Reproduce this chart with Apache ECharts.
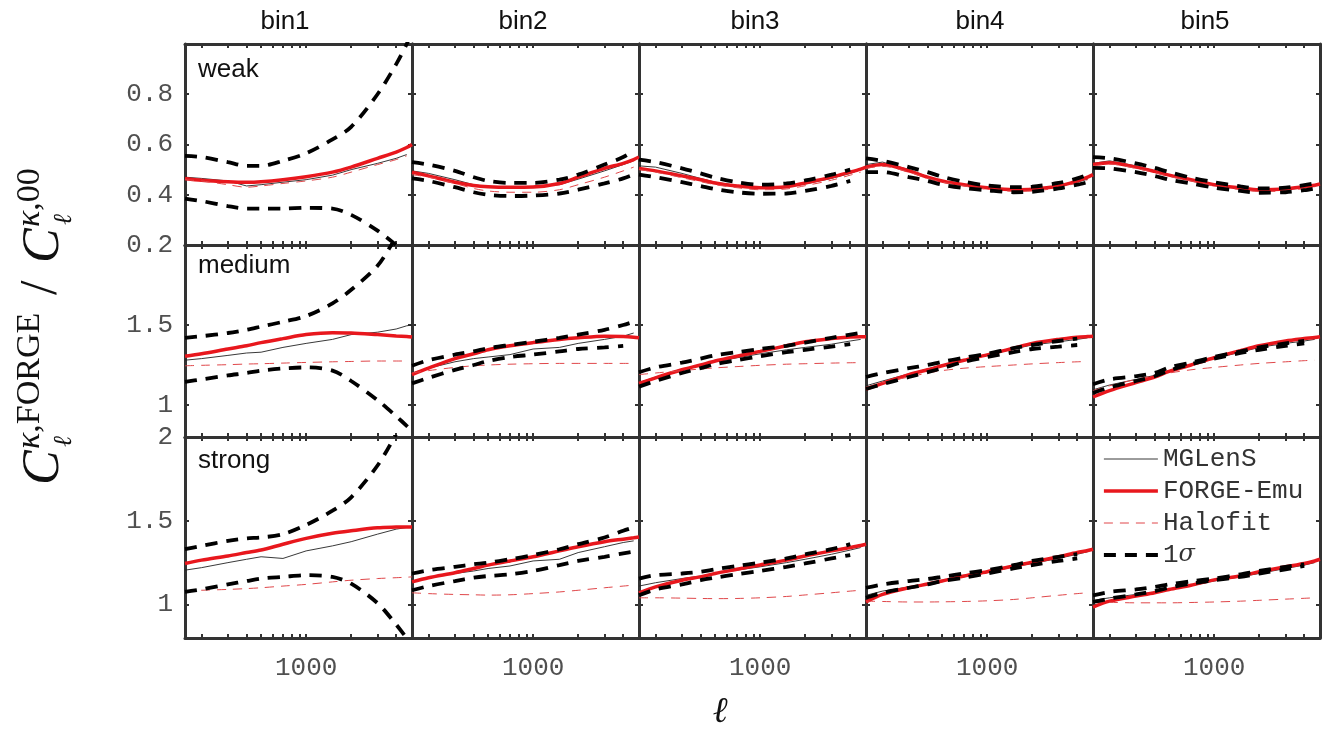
<!DOCTYPE html>
<html>
<head>
<meta charset="utf-8">
<script src="https://cdn.jsdelivr.net/npm/echarts@6/dist/echarts.min.js"></script>
<style>
html,body{margin:0;padding:0;background:#fff;}
#main{width:1341px;height:742px;}
</style>
</head>
<body>
<div id="main"></div>
<script>
// ---------------- data ----------------
const ELL = [155, 200, 300, 400, 500, 700, 1000, 1500, 2000, 3000, 4000, 4700, 5100];
const BINS = ['bin1', 'bin2', 'bin3', 'bin4', 'bin5'];
const ROWS = ['weak', 'medium', 'strong'];
const X_TICKS = [200, 300, 400, 500, 600, 700, 800, 900, 1000, 2000, 3000, 4000];
const X_LABELS = [1000];
const Y_LABELS_WEAK = [0.2, 0.4, 0.6, 0.8];
const Y_TICKS_WEAK = [0.4, 0.6, 0.8];
const Y_LABELS_MEDIUM = [1, 1.5];
const Y_LABELS_STRONG = [1, 1.5, 2];
const Y_TICKS_ML = [1, 1.5];
const LEGEND_NAMES = ['MGLenS', 'FORGE-Emu', 'Halofit', '1σ'];

// weak
const FORGE_WEAK = [
  [0.465,0.458,0.452,0.45,0.452,0.46,0.472,0.49,0.51,0.545,0.57,0.588,0.60],
  [0.49,0.475,0.45,0.437,0.432,0.43,0.431,0.445,0.47,0.505,0.525,0.54,0.55],
  [0.505,0.495,0.475,0.46,0.447,0.435,0.428,0.432,0.447,0.47,0.49,0.502,0.51],
  [0.51,0.52,0.495,0.47,0.455,0.44,0.428,0.42,0.422,0.435,0.455,0.47,0.48],
  [0.52,0.527,0.51,0.493,0.478,0.46,0.44,0.427,0.42,0.423,0.432,0.438,0.443]
];
const MGLENS_WEAK = [
  [0.47,0.465,0.455,0.435,0.44,0.45,0.46,0.478,0.50,0.525,0.545,0.56,null],
  [0.495,0.485,0.46,0.44,0.432,0.43,0.433,0.44,0.462,0.495,0.52,0.535,null],
  [0.515,0.51,0.485,0.465,0.45,0.437,0.428,0.43,0.443,0.465,0.485,0.5,null],
  [0.52,0.53,0.5,0.472,0.456,0.44,0.427,0.42,0.42,0.432,0.45,0.462,null],
  [0.525,0.535,0.515,0.495,0.479,0.46,0.44,0.425,0.418,0.42,0.428,0.435,null]
];
const HALOFIT_WEAK = [
  [0.46,0.455,0.44,0.43,0.435,0.445,0.455,0.47,0.49,0.52,0.54,0.555,null],
  [0.48,0.47,0.445,0.425,0.415,0.41,0.41,0.42,0.44,0.47,0.495,0.51,null],
  [0.5,0.49,0.468,0.452,0.44,0.428,0.42,0.423,0.436,0.458,0.478,0.49,null],
  [0.505,0.513,0.49,0.465,0.45,0.435,0.422,0.414,0.415,0.428,0.447,0.46,null],
  [0.515,0.522,0.505,0.488,0.473,0.455,0.435,0.42,0.413,0.415,0.425,0.432,null]
];
const SIGMA_UP_WEAK = [
  [0.555,0.55,0.53,0.515,0.515,0.535,0.565,0.62,0.67,0.80,0.92,1.0,1.05],
  [0.53,0.52,0.495,0.47,0.455,0.447,0.447,0.46,0.48,0.52,0.55,0.575,null],
  [0.54,0.53,0.505,0.485,0.468,0.45,0.44,0.445,0.457,0.48,0.5,null,null],
  [0.545,0.535,0.51,0.49,0.472,0.452,0.437,0.43,0.432,0.447,0.465,0.48,null],
  [0.55,0.545,0.525,0.507,0.49,0.468,0.45,0.433,0.425,0.428,0.438,0.445,null]
];
const SIGMA_LO_WEAK = [
  [0.385,0.375,0.355,0.345,0.345,0.345,0.348,0.345,0.32,0.257,0.20,0.165,0.15],
  [0.465,0.455,0.43,0.41,0.4,0.395,0.397,0.405,0.42,0.445,0.465,0.48,null],
  [0.48,0.47,0.45,0.435,0.423,0.41,0.404,0.405,0.415,0.435,0.455,null,null],
  [0.49,0.49,0.47,0.455,0.44,0.427,0.418,0.41,0.412,0.425,0.44,0.45,null],
  [0.507,0.505,0.49,0.475,0.46,0.445,0.428,0.415,0.408,0.41,0.418,0.425,null]
];

// medium
const FORGE_MEDIUM = [
  [1.305,1.32,1.35,1.37,1.39,1.415,1.44,1.452,1.45,1.44,1.432,1.428,1.425],
  [1.19,1.23,1.29,1.32,1.345,1.37,1.39,1.41,1.42,1.43,1.428,1.424,1.42],
  [1.135,1.17,1.22,1.25,1.275,1.305,1.335,1.37,1.395,1.415,1.425,1.427,1.427],
  [1.1,1.135,1.19,1.22,1.245,1.28,1.313,1.355,1.385,1.41,1.423,1.428,1.43],
  [1.05,1.09,1.14,1.175,1.21,1.25,1.295,1.34,1.37,1.4,1.415,1.422,1.427]
];
const MGLENS_MEDIUM = [
  [1.28,1.29,1.31,1.325,1.33,1.36,1.385,1.41,1.44,1.455,1.475,1.495,1.5],
  [1.2,1.23,1.27,1.29,1.30,1.315,1.35,1.36,1.385,1.41,1.43,1.45,null],
  [1.14,1.175,1.225,1.25,1.27,1.295,1.32,1.345,1.36,1.38,1.4,1.41,null],
  [1.12,1.15,1.195,1.225,1.25,1.28,1.31,1.35,1.375,1.395,1.41,1.42,null],
  [1.095,1.125,1.16,1.185,1.215,1.25,1.29,1.33,1.36,1.385,1.4,1.41,null]
];
const HALOFIT_MEDIUM = [
  [1.245,1.248,1.252,1.256,1.258,1.262,1.266,1.27,1.272,1.275,1.275,1.275,null],
  [1.2,1.215,1.235,1.245,1.25,1.255,1.258,1.26,1.26,1.26,1.26,1.26,null],
  [1.19,1.2,1.215,1.225,1.232,1.24,1.248,1.255,1.258,1.262,1.264,1.265,null],
  [1.11,1.14,1.175,1.2,1.215,1.23,1.24,1.25,1.257,1.265,1.27,1.272,null],
  [1.09,1.12,1.16,1.185,1.2,1.22,1.235,1.25,1.26,1.27,1.277,1.28,null]
];
const SIGMA_UP_MEDIUM = [
  [1.42,1.43,1.45,1.47,1.49,1.52,1.556,1.635,1.72,1.87,2.05,2.15,2.25],
  [1.245,1.28,1.315,1.335,1.355,1.375,1.395,1.42,1.44,1.47,1.5,1.52,null],
  [1.205,1.235,1.265,1.29,1.31,1.33,1.35,1.37,1.39,1.42,1.44,1.45,null],
  [1.175,1.2,1.23,1.25,1.27,1.295,1.32,1.355,1.375,1.4,1.415,null,null],
  [1.13,1.16,1.18,1.2,1.235,1.265,1.3,1.335,1.36,1.385,1.4,null,null]
];
const SIGMA_LO_MEDIUM = [
  [1.145,1.16,1.185,1.2,1.215,1.228,1.235,1.215,1.15,1.03,0.93,0.87,0.84],
  [1.135,1.17,1.22,1.25,1.275,1.3,1.315,1.335,1.35,1.36,1.37,null,null],
  [1.115,1.15,1.2,1.23,1.255,1.28,1.305,1.33,1.345,1.365,1.38,null,null],
  [1.1,1.13,1.175,1.205,1.23,1.27,1.3,1.33,1.35,1.365,1.375,null,null],
  [1.075,1.11,1.15,1.18,1.215,1.255,1.29,1.325,1.345,1.37,1.385,null,null]
];

// strong
const FORGE_STRONG = [
  [1.245,1.265,1.29,1.31,1.325,1.36,1.395,1.425,1.44,1.458,1.462,1.463,1.463],
  [1.135,1.16,1.19,1.215,1.235,1.26,1.285,1.32,1.345,1.375,1.39,1.398,1.403],
  [1.07,1.105,1.145,1.165,1.185,1.21,1.236,1.265,1.29,1.32,1.34,1.352,1.36],
  [1.015,1.06,1.1,1.122,1.14,1.17,1.196,1.23,1.252,1.285,1.31,1.322,1.33],
  [0.985,1.02,1.05,1.07,1.09,1.115,1.147,1.17,1.195,1.225,1.245,1.26,1.27]
];
const MGLENS_STRONG = [
  [1.205,1.22,1.25,1.27,1.285,1.275,1.32,1.35,1.375,1.42,1.45,1.46,1.462],
  [1.14,1.16,1.185,1.2,1.215,1.23,1.26,1.27,1.31,1.345,1.37,1.38,null],
  [1.11,1.13,1.155,1.17,1.185,1.205,1.225,1.25,1.27,1.3,1.325,1.34,null],
  [1.055,1.08,1.105,1.12,1.14,1.165,1.19,1.225,1.245,1.275,1.3,1.315,null],
  [1.025,1.04,1.06,1.075,1.09,1.112,1.14,1.165,1.185,1.215,1.235,1.25,null]
];
const HALOFIT_STRONG = [
  [1.082,1.085,1.09,1.095,1.1,1.11,1.12,1.135,1.145,1.155,1.16,1.163,1.165],
  [1.07,1.065,1.06,1.058,1.056,1.058,1.065,1.075,1.085,1.1,1.11,1.116,null],
  [1.04,1.04,1.038,1.036,1.035,1.036,1.04,1.048,1.057,1.07,1.08,1.085,null],
  [1.02,1.018,1.015,1.015,1.016,1.018,1.022,1.03,1.04,1.055,1.065,1.07,null],
  [1.015,1.013,1.01,1.01,1.01,1.012,1.015,1.02,1.025,1.032,1.037,1.04,null]
];
const SIGMA_UP_STRONG = [
  [1.33,1.35,1.38,1.395,1.4,1.42,1.475,1.56,1.64,1.83,2.02,2.15,2.2],
  [1.185,1.205,1.225,1.24,1.25,1.27,1.295,1.33,1.36,1.4,1.44,1.46,null],
  [1.155,1.175,1.185,1.195,1.21,1.23,1.25,1.275,1.3,1.33,1.36,null,null],
  [1.1,1.12,1.14,1.152,1.165,1.185,1.205,1.235,1.26,1.285,1.3,null,null],
  [1.055,1.075,1.09,1.105,1.12,1.138,1.155,1.18,1.2,1.225,1.24,null,null]
];
const SIGMA_LO_STRONG = [
  [1.075,1.09,1.12,1.14,1.155,1.165,1.175,1.165,1.124,1.008,0.88,0.8,0.77],
  [1.085,1.11,1.14,1.16,1.17,1.18,1.2,1.235,1.26,1.285,1.305,1.315,null],
  [1.055,1.09,1.12,1.145,1.16,1.18,1.2,1.225,1.245,1.275,1.295,null,null],
  [1.04,1.07,1.1,1.12,1.14,1.16,1.185,1.215,1.235,1.26,1.275,null,null],
  [1.015,1.035,1.06,1.08,1.1,1.125,1.145,1.165,1.185,1.21,1.23,null,null]
];

// ---------------- layout ----------------
const COL_LEFT = [185, 412, 639, 866, 1093];
const COL_W = 227;
const ROW_TOP = [44, 245, 437];
const ROW_H = [201, 192, 201];
const X_MIN = 155, X_MAX = 5100;

const ROW_CFG = [
  {forge: FORGE_WEAK, mg: MGLENS_WEAK, halo: HALOFIT_WEAK, up: SIGMA_UP_WEAK, lo: SIGMA_LO_WEAK,
   yMin: 0.2, yMax: 1.0, labels: Y_LABELS_WEAK, ticks: Y_TICKS_WEAK},
  {forge: FORGE_MEDIUM, mg: MGLENS_MEDIUM, halo: HALOFIT_MEDIUM, up: SIGMA_UP_MEDIUM, lo: SIGMA_LO_MEDIUM,
   yMin: 0.8, yMax: 2.0, labels: Y_LABELS_MEDIUM, ticks: Y_TICKS_ML},
  {forge: FORGE_STRONG, mg: MGLENS_STRONG, halo: HALOFIT_STRONG, up: SIGMA_UP_STRONG, lo: SIGMA_LO_STRONG,
   yMin: 0.8, yMax: 2.0, labels: Y_LABELS_STRONG, ticks: Y_TICKS_ML}
];

const pairs = arr => ELL.map((l, i) => [l, arr[i]]).filter(p => p[1] !== null && p[1] !== undefined);

const FRAME = {show: true, onZero: false, lineStyle: {color: '#333', width: 3}};
const TICK_STYLE = {color: '#333', width: 2};
const MONO = 'Liberation Mono';

const STYLE = {
  'MGLenS': {color: '#222', width: 0.9, type: 'solid'},
  'FORGE-Emu': {color: '#e8171d', width: 3.5, type: 'solid'},
  'Halofit': {color: '#e0474a', width: 1, type: [9, 7]},
  '1σ': {color: '#000', width: 3.8, type: [12, 9]}
};

const grids = [], xAxes = [], yAxes = [], series = [];
let gi = 0;
for (let r = 0; r < 3; r++) {
  const cfg = ROW_CFG[r];
  for (let c = 0; c < 5; c++) {
    grids.push({left: COL_LEFT[c], top: ROW_TOP[r], width: COL_W, height: ROW_H[r], containLabel: false});
    xAxes.push({
      type: 'log', logBase: 10, gridIndex: gi, min: X_MIN, max: X_MAX, position: 'bottom',
      axisLine: FRAME,
      axisTick: {show: true, inside: true, length: 4, lineStyle: TICK_STYLE, customValues: X_TICKS},
      axisLabel: {show: r === 2, customValues: X_LABELS, margin: 17, fontFamily: MONO, fontSize: 26, color: '#505050',
        formatter: v => String(Math.round(v))},
      splitLine: {show: false}
    });
    xAxes.push({
      type: 'log', logBase: 10, gridIndex: gi, min: X_MIN, max: X_MAX, position: 'top',
      axisLine: FRAME,
      axisTick: {show: true, inside: true, length: 4, lineStyle: TICK_STYLE, customValues: X_TICKS},
      axisLabel: {show: false},
      splitLine: {show: false}
    });
    yAxes.push({
      type: 'value', gridIndex: gi, min: cfg.yMin, max: cfg.yMax, position: 'left',
      axisLine: FRAME,
      axisTick: {show: true, inside: true, length: 4, lineStyle: TICK_STYLE, customValues: cfg.ticks},
      axisLabel: {show: c === 0, customValues: cfg.labels, margin: 12, fontFamily: MONO, fontSize: 26, color: '#505050'},
      splitLine: {show: false}
    });
    yAxes.push({
      type: 'value', gridIndex: gi, min: cfg.yMin, max: cfg.yMax, position: 'right',
      axisLine: FRAME,
      axisTick: {show: true, inside: true, length: 4, lineStyle: TICK_STYLE, customValues: cfg.ticks},
      axisLabel: {show: false},
      splitLine: {show: false}
    });
    const mk = (name, arr, z, smooth) => ({
      type: 'line', name: name, xAxisIndex: 2 * gi, yAxisIndex: 2 * gi,
      showSymbol: false, symbol: 'none', symbolSize: 0, clip: true, animation: false, silent: true,
      smooth: smooth, z: z, data: pairs(arr),
      itemStyle: {color: STYLE[name].color},
      lineStyle: {color: STYLE[name].color, width: STYLE[name].width, type: STYLE[name].type}
    });
    series.push(mk('MGLenS', cfg.mg[c], 3, false));
    series.push(mk('FORGE-Emu', cfg.forge[c], 4, 0.3));
    series.push(mk('Halofit', cfg.halo[c], 5, 0.3));
    series.push(mk('1σ', cfg.up[c], 6, 0.3));
    series.push(mk('1σ', cfg.lo[c], 6, 0.3));
    gi++;
  }
}

const graphic = [];
const TITLE_X = [285, 523, 755, 980, 1205];
BINS.forEach((b, i) => graphic.push({type: 'text', x: TITLE_X[i], y: 22,
  style: {text: b, fontFamily: 'Liberation Sans', fontSize: 26, fill: '#111', align: 'center', verticalAlign: 'middle'}}));
const ROW_LABEL_Y = [70, 266, 461];
ROWS.forEach((t, i) => graphic.push({type: 'text', x: 198, y: ROW_LABEL_Y[i],
  style: {text: t, fontFamily: 'Liberation Sans', fontSize: 26, fill: '#111', align: 'left', verticalAlign: 'middle'}}));
// x-axis title
graphic.push({type: 'text', x: 720, y: 713,
  style: {text: 'ℓ', fontFamily: 'DejaVu Serif', fontStyle: 'italic', fontSize: 36, fill: '#111', align: 'center', verticalAlign: 'middle'}});
// y-axis title (rotated group)
const SERIF = 'Liberation Serif';
graphic.push({type: 'group', x: 44, y: 323, rotation: Math.PI / 2, children: [
  {type: 'text', x: -162, y: 0, style: {text: 'C', fontFamily: SERIF, fontStyle: 'italic', fontSize: 52, fill: '#111', align: 'left', verticalAlign: 'middle'}},
  {type: 'text', x: -126, y: -14, style: {text: '{k|κ},FORGE', fontFamily: SERIF, fontSize: 34, fill: '#111', align: 'left', verticalAlign: 'middle',
    rich: {k: {fontFamily: SERIF, fontStyle: 'italic', fontSize: 34}}}},
  {type: 'text', x: -124, y: 20, style: {text: 'ℓ', fontFamily: 'DejaVu Serif', fontStyle: 'italic', fontSize: 26, fill: '#111', align: 'left', verticalAlign: 'middle'}},
  {type: 'text', x: 28, y: -2, style: {text: '/', fontFamily: SERIF, fontSize: 52, fill: '#111', align: 'left', verticalAlign: 'middle'}},
  {type: 'text', x: 60, y: 0, style: {text: 'C', fontFamily: SERIF, fontStyle: 'italic', fontSize: 52, fill: '#111', align: 'left', verticalAlign: 'middle'}},
  {type: 'text', x: 96, y: -14, style: {text: '{k|κ},00', fontFamily: SERIF, fontSize: 34, fill: '#111', align: 'left', verticalAlign: 'middle',
    rich: {k: {fontFamily: SERIF, fontStyle: 'italic', fontSize: 34}}}},
  {type: 'text', x: 98, y: 20, style: {text: 'ℓ', fontFamily: 'DejaVu Serif', fontStyle: 'italic', fontSize: 26, fill: '#111', align: 'left', verticalAlign: 'middle'}}
]});

const chart = echarts.init(document.getElementById('main'), null, {renderer: 'canvas'});
chart.setOption({
  backgroundColor: '#fff',
  animation: false,
  grid: grids,
  xAxis: xAxes,
  yAxis: yAxes,
  series: series,
  legend: {
    data: LEGEND_NAMES.map(n => ({
      name: n,
      itemStyle: {opacity: 0},
      lineStyle: {color: STYLE[n].color, width: STYLE[n].width, type: STYLE[n].type}
    })),
    orient: 'vertical', left: 1097, top: 441,
    itemWidth: 54, itemHeight: 14, itemGap: 6, selectedMode: false,
    textStyle: {fontFamily: MONO, fontSize: 26, color: '#333', lineHeight: 26,
      rich: {s: {fontFamily: 'DejaVu Serif', fontStyle: 'italic', fontSize: 24, color: '#333'}}},
    formatter: n => n === '1σ' ? '1{s|σ}' : n
  },
  graphic: graphic
});
</script>
</body>
</html>
